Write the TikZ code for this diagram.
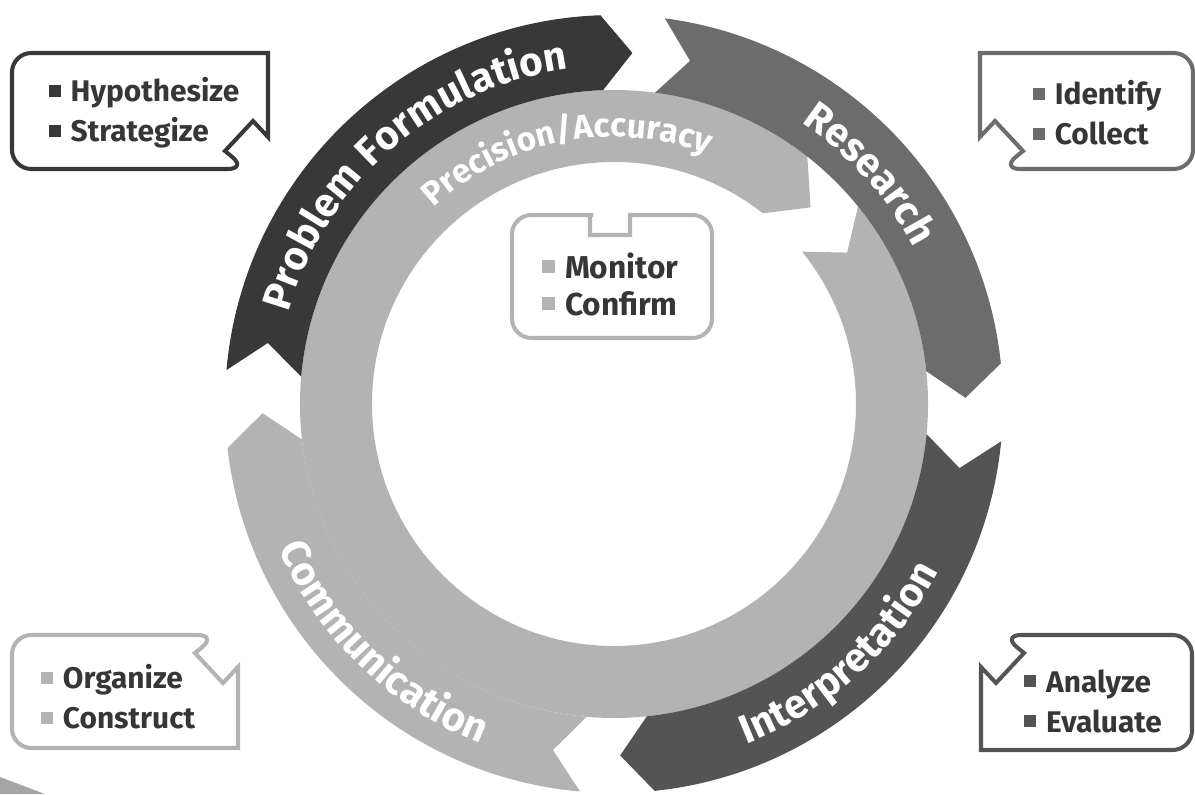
\documentclass[tikz,border=0pt]{standalone}
\usepackage{fontspec}
\setmainfont{Fira Sans}
\newfontfamily\bandfam{Fira Sans}[LetterSpace=5]
\usetikzlibrary{decorations.text}

\definecolor{pfgray}{HTML}{383838}
\definecolor{resgray}{HTML}{6C6C6C}
\definecolor{intgray}{HTML}{545454}
\definecolor{ringgray}{HTML}{B3B3B3}
\definecolor{txtgray}{HTML}{363636}

\newcommand{\bandfont}{\bandfam\bfseries\fontsize{23}{28}\selectfont}
\newcommand{\ringfont}{\bandfam\bfseries\fontsize{19}{24}\selectfont}
\newcommand{\sq}[1]{\textcolor{#1}{\rule[0.16em]{0.41em}{0.41em}}\hspace{0.33em}}

\begin{document}
\begin{tikzpicture}[x=0.02cm, y=0.02cm,
    bandtext/.style={decorate, decoration={text along path, text align=center, text color=white, text={#1}}},
    boxtext/.style={align=left, text=txtgray, inner sep=0pt, font=\bfseries\fontsize{17}{22.7}\selectfont},
    boxline/.style={draw=#1, line width=2.3pt}]
  \useasboundingbox (-614,-390) rectangle (581,404);
  \fill[gray!70] (-614,-373) -- (-569,-390) -- (-614,-390) -- cycle;

  \fill[ringgray] (39:314) arc (39:-308:314) -- (-315:278) -- (-308:242) arc (-308:39:242) -- (33:278) -- cycle;
  \foreach \a/\b/\col in {175/92/pfgray, 82.5/6/resgray, -5.5/-84/intgray, -95/-173.5/ringgray}{
    \pgfmathsetmacro\ta{\a-5}
    \pgfmathsetmacro\tb{\b-5}
    \fill[\col] (\a:314) arc (\a:\b:314) -- (\tb:351.5) -- (\b:389) arc (\b:\a:389) -- (\ta:351.5) -- cycle;
  }

  \path[bandtext={|\bandfont|Problem Formulation}] (201:338) arc (201:61:338);
  \path[bandtext={|\bandfont|Research}] (112:338) arc (112:-28:338);
  \path[bandtext={|\bandfont|Interpretation}] (-118:365) arc (-118:22:365);
  \path[bandtext={|\bandfont|Communication}] (156:365) arc (156:296:365);
  \path[bandtext={|\ringfont|Precision/Accuracy}] (171:267) arc (171:31:267);

  \draw[boxline=ringgray] (-40,189) -- (-24,189) -- (-24,169) -- (16,169) -- (16,189) -- (30,189)
    [rounded corners=11pt] -- (98,189) -- (98,66) -- (-102,66) -- (-102,189) -- cycle;
  \node[boxtext, font=\bfseries\fontsize{18}{21}\selectfont] (monitor) at (-4,120)
    {\sq{ringgray}Monitor\\\sq{ringgray}Confirm};

  \foreach \px/\py/\sx/\sy/\w/\h/\col in {-346/235/1/-1/256/116/pfgray, 366/235/-1/-1/213/116/resgray,
      -376/-231/1/1/226/113/ringgray, 367/-231/-1/1/211/115/intgray}{
    \begin{scope}[shift={(\px,\py)}, xscale=\sx, yscale=\sy]
      \draw[boxline=\col] (0,-32) -- (0,-\h) [rounded corners=11pt] -- (-\w,-\h) -- (-\w,0) -- (-21,0)
        [sharp corners] -- (-43,-18) -- (-15,-48) -- cycle;
    \end{scope}
  }
  \node[boxtext] (hypo) at (-470,291) {\sq{pfgray}Hypothesize\\\sq{pfgray}Strategize};
  \node[boxtext] (ident) at (483,291) {\sq{resgray}Identify\\\sq{resgray}Collect};
  \node[boxtext] (organize) at (-496,-293) {\sq{ringgray}Organize\\\sq{ringgray}Construct};
  \node[boxtext] (analyze) at (479,-297) {\sq{intgray}Analyze\\\sq{intgray}Evaluate};
\end{tikzpicture}
\end{document}
